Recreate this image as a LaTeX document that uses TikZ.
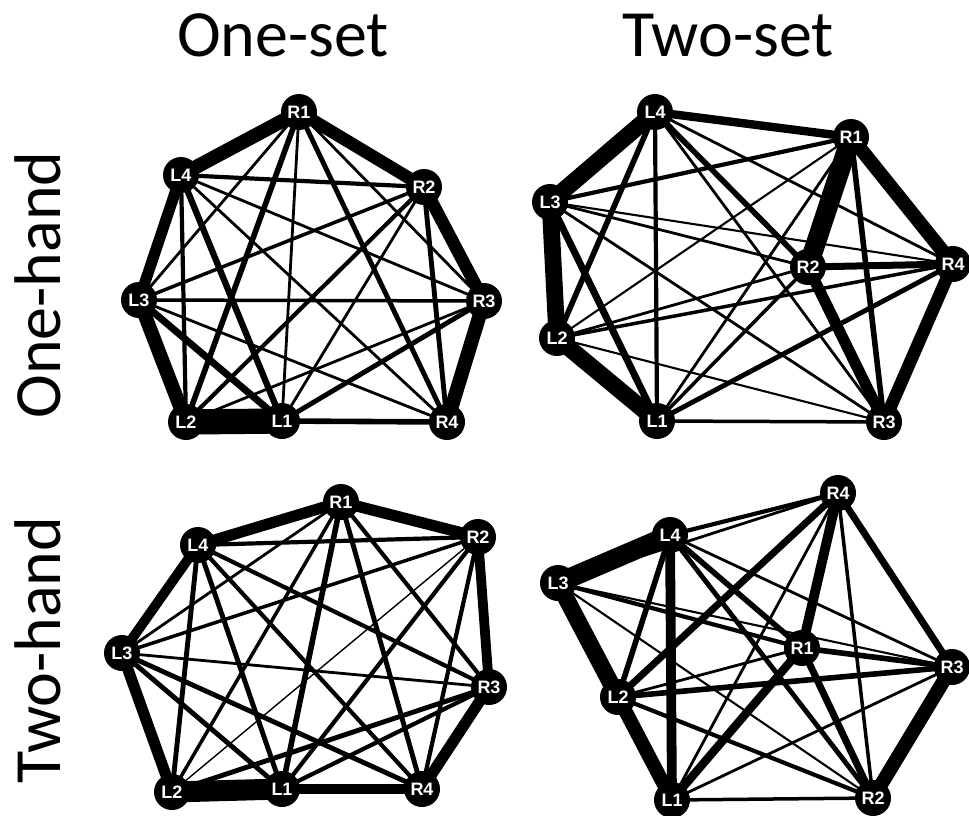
\documentclass[tikz,border=0pt]{standalone}
\usepackage{fontspec}
\setmainfont{Carlito}
\newfontfamily\nodefont{Liberation Sans}
\pgfdeclarelayer{bg}
\pgfsetlayers{bg,main}
\begin{document}
\begin{tikzpicture}[x=1pt,y=-1pt,
  nd/.style={circle,fill=black,minimum size=36pt,inner sep=0pt,text=white,
    font=\nodefont\fontsize{18}{18}\selectfont\bfseries},
  ttl/.style={anchor=base,inner sep=0pt,font=\fontsize{66}{66}\selectfont},
  edge/.style={line width={1.4*#1 pt}}]
\useasboundingbox (0,0) rectangle (969,816);
% titles
\node[ttl] (t1) at (283,57) {One-set};
\node[ttl] (t2) at (728,57) {Two-set};
\node[ttl,rotate=90] (t3) at (60,285) {One-hand};
\node[ttl,rotate=90] (t4) at (60,650) {Two-hand};
% panel a
\node[nd] (aR1) at (299,112) {R1};
\node[nd] (aL4) at (181,175) {L4};
\node[nd] (aR2) at (424,187) {R2};
\node[nd] (aL3) at (139,300) {L3};
\node[nd] (aR3) at (484,301) {R3};
\node[nd] (aL2) at (186,422) {L2};
\node[nd] (aL1) at (282,421) {L1};
\node[nd] (aR4) at (447,422) {R4};
% panel b
\node[nd] (bL4) at (655,112) {L4};
\node[nd] (bR1) at (851,137) {R1};
\node[nd] (bL3) at (550,202) {L3};
\node[nd] (bR2) at (808,267) {R2};
\node[nd] (bR4) at (953,264) {R4};
\node[nd] (bL2) at (557,338) {L2};
\node[nd] (bL1) at (657,421) {L1};
\node[nd] (bR3) at (884,422) {R3};
% panel c
\node[nd] (cR1) at (341,502) {R1};
\node[nd] (cL4) at (198,545) {L4};
\node[nd] (cR2) at (478,537) {R2};
\node[nd] (cL3) at (122,653) {L3};
\node[nd] (cR3) at (489,687) {R3};
\node[nd] (cL2) at (172,792) {L2};
\node[nd] (cL1) at (282,789) {L1};
\node[nd] (cR4) at (422,789) {R4};
% panel d
\node[nd] (dR4) at (838,493) {R4};
\node[nd] (dL4) at (670,535) {L4};
\node[nd] (dL3) at (558,583) {L3};
\node[nd] (dR1) at (802,648) {R1};
\node[nd] (dR3) at (952,667) {R3};
\node[nd] (dL2) at (618,697) {L2};
\node[nd] (dL1) at (672,800) {L1};
\node[nd] (dR2) at (873,798) {R2};
\begin{pgfonlayer}{bg}
\foreach \u/\v/\w in {L1/L2/18,L1/L3/5,L1/L4/4.5,L1/R1/2,L1/R2/2,L1/R3/3.5,L1/R4/4,
  L2/L3/10,L2/L4/3,L2/R1/4,L2/R2/3,L2/R3/2,L2/R4/1.5,
  L3/L4/8,L3/R1/2,L3/R2/2.5,L3/R3/2.5,L3/R4/2,
  L4/R1/10,L4/R2/3,L4/R3/2,L4/R4/2,
  R1/R2/9,R1/R3/2,R1/R4/3.5,R2/R3/9,R2/R4/3.5,R3/R4/10}
  \draw[edge=\w] (a\u.center) -- (a\v.center);
\foreach \u/\v/\w in {L1/L2/12,L1/L3/5,L1/L4/3,L1/R1/2,L1/R2/2.5,L1/R3/2.5,L1/R4/3.5,
  L2/L3/12,L2/L4/4,L2/R1/1.5,L2/R2/2,L2/R3/1.5,L2/R4/2.5,
  L3/L4/12,L3/R1/3,L3/R2/2,L3/R3/2,L3/R4/1.5,
  L4/R1/6,L4/R2/4,L4/R3/2,L4/R4/2,
  R1/R2/14,R1/R3/4,R1/R4/10,R2/R3/8,R2/R4/5,R3/R4/9}
  \draw[edge=\w] (b\u.center) -- (b\v.center);
\foreach \u/\v/\w in {L1/L2/15,L1/L3/3.5,L1/L4/3.5,L1/R1/4,L1/R2/3,L1/R3/3,L1/R4/7,
  L2/L3/8,L2/L4/3.5,L2/R1/2.5,L2/R2/1,L2/R3/3.5,L2/R4/2,
  L3/L4/7,L3/R1/2,L3/R2/2.5,L3/R3/2,L3/R4/3.5,
  L4/R1/8,L4/R2/3,L4/R3/3,L4/R4/3,
  R1/R2/8,R1/R3/3,R1/R4/3.5,R2/R3/7,R2/R4/3,R3/R4/8}
  \draw[edge=\w] (c\u.center) -- (c\v.center);
\foreach \u/\v/\w in {L1/L2/10,L1/L3/1.5,L1/L4/7,L1/R1/6,L1/R2/2.5,L1/R3/2,L1/R4/2,
  L2/L3/12,L2/L4/4,L2/R1/2,L2/R2/3,L2/R3/4,L2/R4/5,
  L3/L4/14,L3/R1/3,L3/R2/1.5,L3/R3/1.5,L3/R4/2,
  L4/R1/4,L4/R2/3.5,L4/R3/2,L4/R4/3,
  R1/R2/5,R1/R3/4,R1/R4/7,R2/R3/10,R2/R4/2.5,R3/R4/5}
  \draw[edge=\w] (d\u.center) -- (d\v.center);
\end{pgfonlayer}
\end{tikzpicture}
\end{document}
